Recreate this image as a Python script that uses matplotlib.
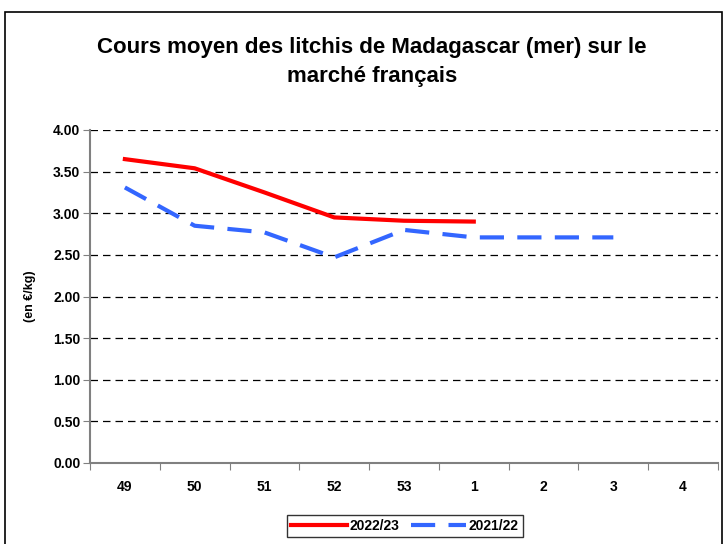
import numpy as np
import matplotlib.pyplot as plt
from matplotlib.patches import Rectangle

plt.rcParams['font.family'] = ['Liberation Sans', 'DejaVu Sans']
plt.rcParams['font.weight'] = 'bold'

# Data
weeks = ['49', '50', '51', '52', '53', '1', '2', '3', '4']
price_2223 = [3.65, 3.54, 3.25, 2.95, 2.91, 2.90]
price_2122 = [3.31, 2.85, 2.77, 2.47, 2.80, 2.71, 2.71, 2.71]
yticks = [0.0, 0.5, 1.0, 1.5, 2.0, 2.5, 3.0, 3.5, 4.0]

fig = plt.figure(figsize=(7.28, 5.44), dpi=100)
# outer chart border
fig.patches.append(Rectangle((5/728, -0.01), 717/728, 1 - 12/544 + 0.01,
                             transform=fig.transFigure, fill=False,
                             edgecolor='black', lw=1.2))

ax = fig.add_axes([90/728, 1 - 463/544, 628/728, 333/544])

x = np.arange(len(weeks))
ax.plot(x[:len(price_2223)], price_2223, color='#ff0000', lw=3, label='2022/23')
ax.plot(x[:len(price_2122)], price_2122, color='#3366ff', lw=3,
        dashes=(5.8, 3.2), label='2021/22')

ax.set_xlim(-0.5, len(weeks) - 0.5)
ax.set_ylim(0, 4)
ax.set_yticks(yticks)
ax.set_yticklabels(['%.2f' % v for v in yticks], fontsize=10, fontweight='bold')
ax.set_xticks(np.arange(len(weeks) + 1) - 0.5)
ax.set_xticklabels([])
ax.set_xticks(x, minor=True)
ax.set_xticklabels(weeks, minor=True, fontsize=10, fontweight='bold')
ax.tick_params(axis='x', which='minor', length=0, pad=12)
ax.tick_params(axis='x', which='major', length=5, direction='out', color='#808080')
ax.tick_params(axis='y', length=5, direction='out', color='#808080', pad=2)

for v in yticks[1:]:
    ax.axhline(v, color='black', lw=0.9, dashes=(6, 4), zorder=0)

for s in ['top', 'right']:
    ax.spines[s].set_visible(False)
for s in ['left', 'bottom']:
    ax.spines[s].set_color('#808080')
    ax.spines[s].set_linewidth(1.5)

ax.set_ylabel('(en €/kg)', fontsize=9, fontweight='bold', labelpad=12)

fig.text(372/728, 1 - 62/544, 'Cours moyen des litchis de Madagascar (mer) sur le\nmarché français',
         ha='center', va='center', fontsize=16, fontweight='bold', linespacing=1.5)

leg = fig.legend(loc='center', bbox_to_anchor=(405/728, 1 - 526/544), ncol=2,
                 frameon=True, fancybox=False, edgecolor='black',
                 prop={'size': 10, 'weight': 'bold'}, handlelength=4,
                 columnspacing=0.8, handletextpad=0.2, borderpad=0.3)
leg.get_frame().set_linewidth(1)

plt.savefig('out.png', dpi=100)
